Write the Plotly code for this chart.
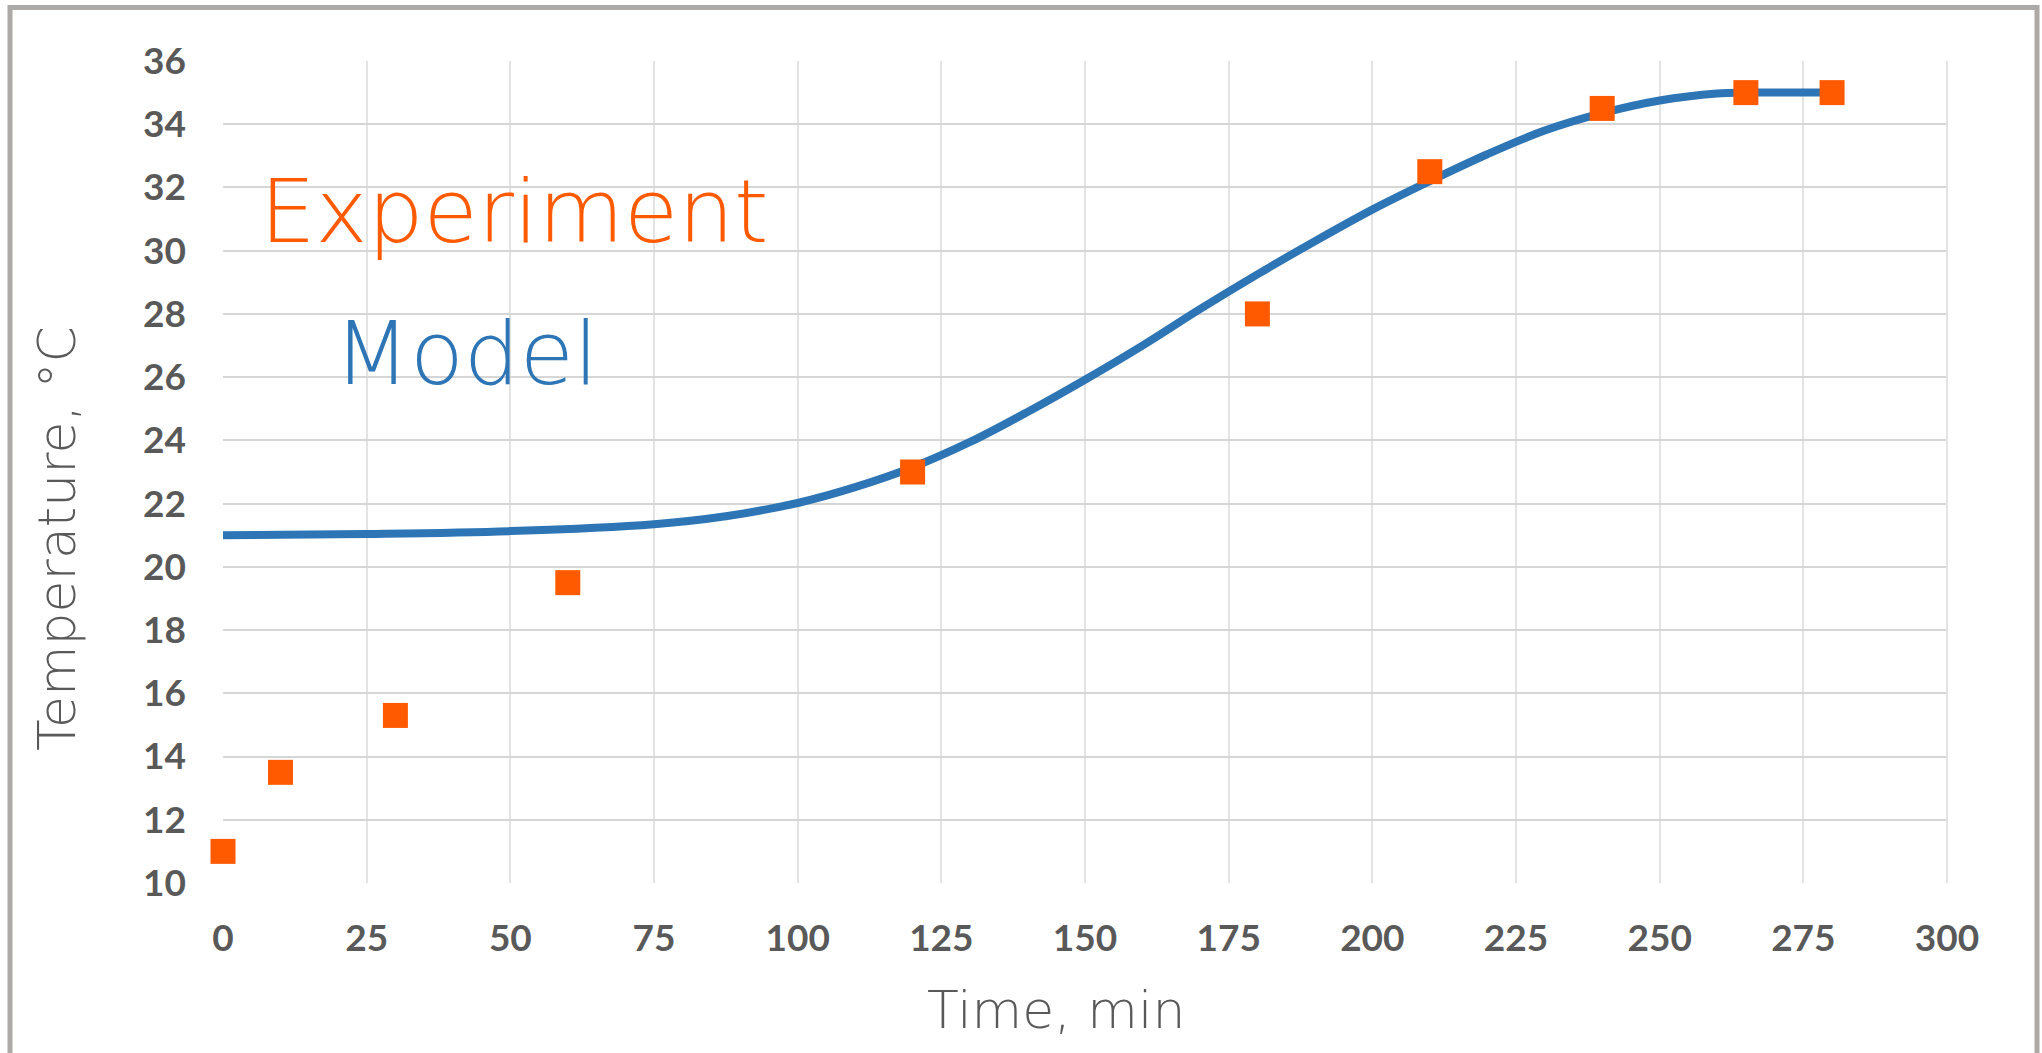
import plotly.graph_objects as go

# Experimental data
exp_time = [0, 10, 30, 60, 120, 180, 210, 240, 265, 280]
exp_temp = [11.0, 13.5, 15.3, 19.5, 23.0, 28.0, 32.5, 34.5, 35.0, 35.0]

# Model curve
model_time = [0, 25, 50, 75, 87.5, 100, 110, 120, 130, 140, 150, 160, 170, 180,
              190, 200, 210, 220, 230, 240, 250, 260, 265, 280]
model_temp = [21.0, 21.04, 21.13, 21.35, 21.6, 22.02, 22.52, 23.15, 23.95, 24.9, 25.92,
              27.0, 28.15, 29.25, 30.3, 31.3, 32.2, 33.05, 33.8, 34.35, 34.75, 34.97,
              35.0, 35.0]

x_ticks = list(range(0, 301, 25))
y_ticks = list(range(10, 37, 2))

ORANGE = "#FF5A00"
BLUE = "#2E75B6"
GRAY = "#595959"

W, H = 2042, 1053
L, R, T, B = 223, 1947, 61, 883


def px(x):
    return (x - L) / (R - L)


def py(y):
    return (B - y) / (B - T)


fig = go.Figure()
fig.add_trace(go.Scatter(x=model_time, y=model_temp, mode="lines",
                         line=dict(color=BLUE, width=8, shape="spline", smoothing=1.0),
                         name="Model", showlegend=False))
fig.add_trace(go.Scatter(x=exp_time, y=exp_temp, mode="markers", cliponaxis=False,
                         marker=dict(symbol="square", size=25, color=ORANGE),
                         name="Experiment", showlegend=False))

tick_font = dict(family="Lato, 'Open Sans', sans-serif", size=37, color=GRAY, weight="bold")
LIGHT = "'DejaVu Sans', sans-serif"
title_font = dict(family=LIGHT, size=52, color=GRAY, weight=200)

fig.update_layout(
    width=W, height=H,
    margin=dict(l=L, r=W - R, t=T, b=H - B),
    paper_bgcolor="white", plot_bgcolor="white",
    xaxis=dict(range=[0, 300], tickvals=x_ticks, ticktext=[str(v) for v in x_ticks],
               showgrid=True, gridcolor="#E3E3E3", gridwidth=2, zeroline=False,
               showline=False, ticks="", tickfont=tick_font, ticklabelstandoff=30,
               fixedrange=True),
    yaxis=dict(range=[10, 36], tickvals=y_ticks, ticktext=[str(v) for v in y_ticks],
               showgrid=True, gridcolor="#D6D6D6", gridwidth=2, zeroline=False,
               showline=False, ticks="", tickfont=tick_font, ticklabelstandoff=36,
               fixedrange=True),
    shapes=[
        dict(type="rect", xref="paper", yref="paper",
             x0=px(10), x1=px(2037), y0=py(1058), y1=py(7.5),
             line=dict(color="#ADA9A7", width=5), fillcolor="rgba(0,0,0,0)", layer="above"),
        dict(type="line", xref="paper", yref="paper", x0=1, x1=1, y0=0, y1=1,
             line=dict(color="#E3E3E3", width=2)),
    ],
    annotations=[
        dict(text="Experiment", xref="paper", yref="paper", x=px(258), y=py(211),
             xanchor="left", yanchor="middle", showarrow=False,
             font=dict(family=LIGHT, size=88, color=ORANGE, weight=200)),
        dict(text="Model", xref="paper", yref="paper", x=px(332), y=py(353),
             xanchor="left", yanchor="middle", showarrow=False,
             font=dict(family=LIGHT, size=88, color=BLUE, weight=200)),
        dict(text="Time, min", xref="paper", yref="paper", x=px(1056), y=py(1010),
             xanchor="center", yanchor="middle", showarrow=False, font=title_font),
        dict(text="Temperature, °C", xref="paper", yref="paper", x=px(57), y=py(539),
             xanchor="center", yanchor="middle", showarrow=False, textangle=-90,
             font=title_font),
    ],
)

fig.write_html("out.html", config={"displayModeBar": False},
               post_script="document.body.style.margin='0px';")
